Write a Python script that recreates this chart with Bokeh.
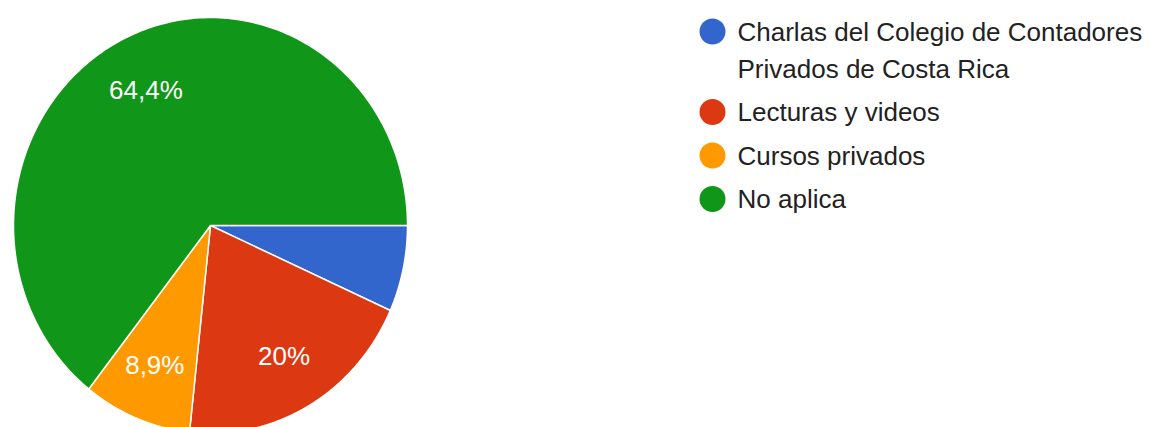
import numpy as np
from bokeh.plotting import figure
from bokeh.models import Range1d, ColumnDataSource
from bokeh.core.properties import value
from bokeh.embed import file_html
from bokeh.resources import INLINE

categories = ["Charlas del Colegio de Contadores\nPrivados de Costa Rica",
              "Lecturas y videos", "Cursos privados", "No aplica"]
percents = [6.7, 20.0, 8.9, 64.4]
pct_labels = ["", "20%", "8,9%", "64,4%"]
colors = ["#3366cc", "#dc3912", "#ff9900", "#109618"]

W, H = 1152, 427
p = figure(width=W, height=H, output_backend="svg", toolbar_location=None,
           x_range=Range1d(0, W), y_range=Range1d(427 - H, 427),
           min_border=0)
p.axis.visible = False
p.grid.visible = False
p.outline_line_color = None
p.background_fill_color = "white"

# pie (slightly stretched vertically, as in the reference picture)
cx, cy, RX, RY = 210, 427 - 225, 197, 208
frac = np.array(percents) / sum(percents)
cum = np.concatenate([[0], np.cumsum(frac)])
start = -cum[1:] * 2 * np.pi
end = -cum[:-1] * 2 * np.pi
xs, ys = [], []
for a0, a1 in zip(start, end):
    t = np.linspace(a0, a1, 200)
    xs.append(np.concatenate([[cx], cx + RX * np.cos(t)]))
    ys.append(np.concatenate([[cy], cy + RY * np.sin(t)]))
src = ColumnDataSource(dict(xs=xs, ys=ys, color=colors))
p.patches(xs="xs", ys="ys", fill_color="color", line_color="white",
          line_width=1.5, line_join="round", source=src)

mid = (start + end) / 2
kx, ky = 0.75, 0.725
lsrc = ColumnDataSource(dict(x=cx + kx * RX * np.cos(mid),
                             y=cy + ky * RY * np.sin(mid), t=pct_labels))
p.text(x="x", y="y", text="t", source=lsrc, text_color="white",
       text_font=value("Liberation Sans"), text_font_size="26px",
       text_align="center", text_baseline="middle")

# legend
lx_dot, lx_text = 712, 737
line_h, gap = 37, 43.5
ycur = 31
dots_x, dots_y, dcol = [], [], []
tx, ty, tt = [], [], []
for lab, c in zip(categories, colors):
    lines = lab.split("\n")
    dots_x.append(lx_dot); dots_y.append(427 - ycur); dcol.append(c)
    for i, ln in enumerate(lines):
        tx.append(lx_text); ty.append(427 - (ycur + i * line_h)); tt.append(ln)
    ycur += (len(lines) - 1) * line_h + gap
p.scatter(x=dots_x, y=dots_y, size=26, marker="circle", fill_color=dcol,
          line_color=None)
p.text(x=tx, y=ty, text=tt, text_color="#222222",
       text_font=value("Liberation Sans"), text_font_size="26px",
       text_align="left", text_baseline="middle")

open("out.html", "w").write(file_html(p, INLINE))
